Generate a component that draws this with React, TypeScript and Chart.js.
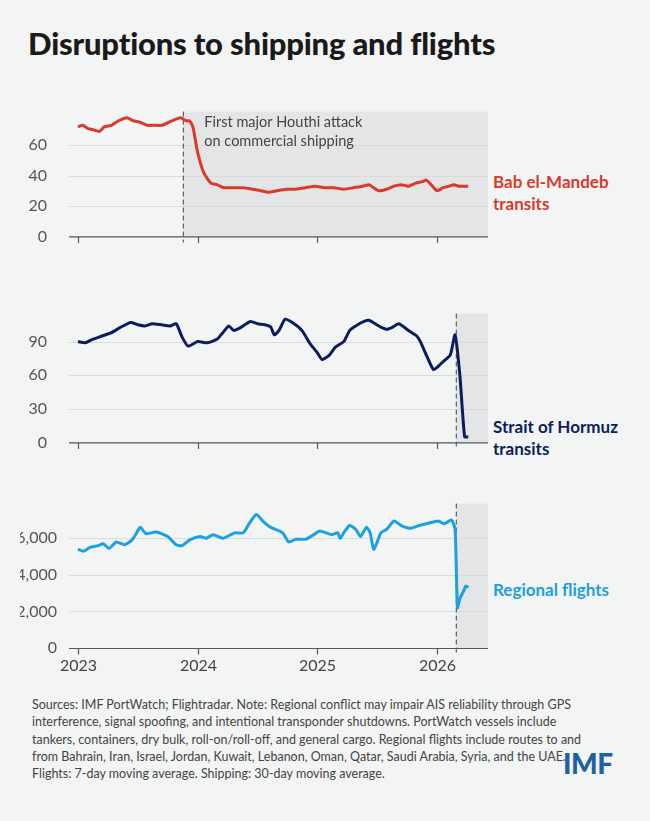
import React, { useEffect, useRef } from "react";
import { Chart, registerables } from "chart.js";
Chart.register(...registerables);

const yearTicks = [2023, 2024, 2025, 2026];
const xMin = 2022.925;
const xMax = 2026.425;

const babX = [2023.0,2023.04,2023.08,2023.13,2023.18,2023.22,2023.28,2023.34,2023.41,2023.46,2023.52,2023.58,2023.64,2023.7,2023.76,2023.82,2023.86,2023.9,2023.93,2023.96,2024.0,2024.05,2024.11,2024.16,2024.22,2024.3,2024.38,2024.46,2024.53,2024.59,2024.66,2024.74,2024.82,2024.9,2024.98,2025.06,2025.14,2025.22,2025.3,2025.38,2025.43,2025.47,2025.51,2025.58,2025.64,2025.7,2025.76,2025.82,2025.88,2025.91,2025.95,2026.0,2026.05,2026.1,2026.14,2026.18,2026.22,2026.26];
const babY = [72,73,71,70,69,72,73,76,78,76,75,73,73,73,75,77,78,76,76,72,55,42,35,34,32,32,32,31,30,29,30,31,31,32,33,32,32,31,32,33,34,32,30,31,33,34,33,35,36,37,34,30,32,33,34,33,33,33];

const hormuzX = [2023.0,2023.06,2023.12,2023.2,2023.28,2023.36,2023.44,2023.5,2023.56,2023.62,2023.7,2023.77,2023.82,2023.87,2023.92,2024.0,2024.08,2024.16,2024.21,2024.26,2024.3,2024.35,2024.44,2024.5,2024.56,2024.61,2024.64,2024.68,2024.73,2024.79,2024.87,2024.94,2025.0,2025.04,2025.1,2025.15,2025.22,2025.27,2025.32,2025.39,2025.43,2025.48,2025.53,2025.58,2025.63,2025.68,2025.76,2025.83,2025.86,2025.91,2025.97,2026.01,2026.06,2026.11,2026.15,2026.19,2026.23,2026.26];
const hormuzY = [90,89,92,95,98,103,107,105,104,106,105,104,106,94,86,90,89,92,98,104,100,102,108,106,105,103,96,100,110,107,100,88,80,74,78,85,90,100,104,108,109,106,103,101,103,106,100,95,90,78,65,68,73,78,96,60,5,5];

const flightX = [2023.0,2023.05,2023.1,2023.17,2023.21,2023.26,2023.32,2023.39,2023.45,2023.49,2023.52,2023.57,2023.65,2023.75,2023.82,2023.87,2023.93,2024.02,2024.07,2024.13,2024.21,2024.31,2024.38,2024.43,2024.49,2024.55,2024.61,2024.71,2024.76,2024.82,2024.9,2024.97,2025.02,2025.12,2025.17,2025.19,2025.22,2025.27,2025.32,2025.36,2025.41,2025.44,2025.47,2025.5,2025.53,2025.58,2025.64,2025.7,2025.78,2025.85,2025.91,2026.01,2026.06,2026.12,2026.15,2026.17,2026.19,2026.22,2026.24,2026.26];
const flightY = [5400,5300,5500,5600,5700,5450,5800,5650,5900,6300,6600,6250,6350,6100,5650,5600,5900,6100,6000,6200,6000,6300,6300,6800,7300,6900,6600,6300,5800,5950,5950,6200,6400,6200,6300,6000,6300,6700,6500,6100,6600,6300,5400,5800,6300,6500,6950,6700,6550,6700,6800,6950,6800,7000,6500,2200,2700,3100,3400,3300];

const houthiDate = 2023.88;
const hormuzDate = 2026.16;

const FONT = "Lato, 'Noto Sans', sans-serif";

type PanelProps = {
  xs: number[]; ys: number[]; color: string; yMax: number; yTop: number; step: number;
  event: number; showLabels: boolean; note?: string[]; padY: number; top: number; height: number;
};

function Panel(p: PanelProps) {
  const ref = useRef<HTMLCanvasElement>(null);
  useEffect(() => {
    const shade = {
      id: "shade",
      beforeDatasetsDraw(chart: any) {
        const { ctx, chartArea, scales } = chart;
        const x0 = scales.x.getPixelForValue(p.event);
        ctx.save();
        ctx.fillStyle = "#e4e5e7";
        ctx.fillRect(x0, chartArea.top, chartArea.right - x0, chartArea.bottom - chartArea.top);
        ctx.strokeStyle = "#dadbdd";
        ctx.lineWidth = 1;
        scales.y.ticks.forEach((t: any) => {
          if (t.value === 0) return;
          const y = Math.round(scales.y.getPixelForValue(t.value)) + 0.5;
          ctx.beginPath(); ctx.moveTo(chartArea.left, y); ctx.lineTo(chartArea.right, y); ctx.stroke();
        });
        ctx.strokeStyle = "#444";
        ctx.setLineDash([5, 3]);
        ctx.beginPath(); ctx.moveTo(x0, chartArea.top); ctx.lineTo(x0, chartArea.bottom + 6); ctx.stroke();
        ctx.setLineDash([]);
        if (p.note) {
          ctx.fillStyle = "#444";
          ctx.font = `14.5px ${FONT}`;
          ctx.textBaseline = "top";
          p.note.forEach((s, i) => ctx.fillText(s, x0 + 21, chartArea.top + 3 + i * 19));
        }
        ctx.restore();
      },
      afterDraw(chart: any) {
        const { ctx, chartArea, scales } = chart;
        ctx.save();
        ctx.strokeStyle = "#555";
        ctx.lineWidth = 1.2;
        const yb = chartArea.bottom + 0.5;
        ctx.beginPath(); ctx.moveTo(chartArea.left, yb); ctx.lineTo(chartArea.right, yb); ctx.stroke();
        ctx.fillStyle = "#444";
        ctx.font = `16px ${FONT}`;
        ctx.textAlign = "center";
        ctx.textBaseline = "top";
        yearTicks.forEach((v) => {
          const x = Math.round(scales.x.getPixelForValue(v)) + 0.5;
          ctx.beginPath(); ctx.moveTo(x, yb); ctx.lineTo(x, yb + 6); ctx.stroke();
          if (p.showLabels) ctx.fillText(String(v), x, yb + 9);
        });
        ctx.restore();
      },
    };
    const chart = new Chart(ref.current!, {
      type: "line",
      data: { datasets: [{ data: p.xs.map((x, i) => ({ x, y: p.ys[i] })), borderColor: p.color, borderWidth: 3, pointRadius: 0, tension: 0.2 }] },
      options: {
        animation: false, responsive: false, maintainAspectRatio: false,
        layout: { autoPadding: false, padding: { left: 0, right: 2, top: 0, bottom: p.showLabels ? 30 : 8 } },
        plugins: { legend: { display: false }, tooltip: { enabled: false } },
        scales: {
          x: { type: "linear", min: xMin, max: xMax, display: false },
          y: {
            min: 0, max: p.yMax,
            afterBuildTicks: (s: any) => { const t = []; for (let v = 0; v <= p.yTop; v += p.step) t.push({ value: v }); s.ticks = t; },
            afterFit: (s: any) => { s.width = 49; },
            grid: { display: false },
            border: { display: false },
            ticks: { color: "#555", font: { family: FONT, size: 16 }, padding: p.padY, callback: (v: any) => Number(v).toLocaleString("en-US") },
          },
        },
      },
      plugins: [shade],
    } as any);
    return () => chart.destroy();
  }, []);
  return <canvas ref={ref} width={470} height={p.height} style={{ position: "absolute", left: 20, top: p.top, width: 470, height: p.height }} />;
}

const lbl = (color: string): React.CSSProperties => ({ position: "absolute", left: 493, color, fontWeight: 700, fontSize: 17, lineHeight: "22px", fontFamily: FONT });

export default function App() {
  return (
    <div style={{ position: "absolute", left: 0, top: 0, width: 650, height: 821, background: "#f3f4f4", fontFamily: FONT, overflow: "hidden" }}>
      <div style={{ position: "absolute", left: 28, top: 24, fontSize: 31, fontWeight: 900, color: "#1a1a1a", letterSpacing: -0.2 }}>Disruptions to shipping and flights</div>
      <Panel xs={babX} ys={babY} color="#d93a2b" yMax={82} yTop={60} step={20} event={houthiDate} showLabels={false} padY={14}
        note={["First major Houthi attack", "on commercial shipping"]} top={88} height={172} />
      <div style={{ ...lbl("#d93a2b"), top: 171 }}>Bab el-Mandeb<br />transits</div>
      <Panel xs={hormuzX} ys={hormuzY} color="#0c1d5e" yMax={115} yTop={90} step={30} event={hormuzDate} showLabels={false} padY={14} top={290} height={176} />
      <div style={{ ...lbl("#0c1d5e"), top: 416 }}>Strait of Hormuz<br />transits</div>
      <Panel xs={flightX} ys={flightY} color="#1ba1e2" yMax={7900} yTop={6000} step={2000} event={hormuzDate} showLabels={true} padY={4} top={490} height={188} />
      <div style={{ ...lbl("#1ba1e2"), top: 579 }}>Regional flights</div>
      <div style={{ position: "absolute", left: 32, top: 696, width: 565, fontSize: 12.5, lineHeight: "17.3px", color: "#444" }}>
        Sources: IMF PortWatch; Flightradar. Note: Regional conflict may impair AIS reliability through GPS interference, signal spoofing, and intentional transponder shutdowns. PortWatch vessels include tankers, containers, dry bulk, roll-on/roll-off, and general cargo. Regional flights include routes to and from Bahrain, Iran, Israel, Jordan, Kuwait, Lebanon, Oman, Qatar, Saudi Arabia, Syria, and the UAE. Flights: 7-day moving average. Shipping: 30-day moving average.
      </div>
      <div style={{ position: "absolute", left: 563, top: 746, fontSize: 28, fontWeight: 900, color: "#1f5fa8", letterSpacing: -0.5 }}>IMF</div>
    </div>
  );
}
